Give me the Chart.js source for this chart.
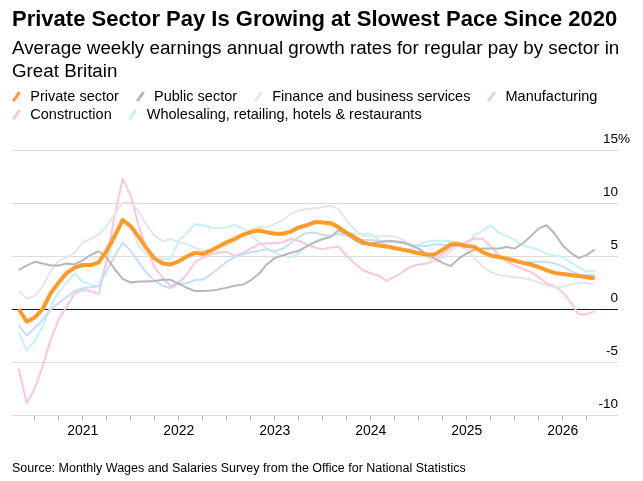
<!DOCTYPE html>
<html>
<head>
<meta charset="utf-8">
<script src="https://cdn.jsdelivr.net/npm/chart.js@4.4.1/dist/chart.umd.min.js"></script>
<style>
  body { margin: 0; background: #fff; font-family: 'Liberation Sans', Arial, sans-serif; color: #000; }
  #wrap { position: relative; width: 643px; height: 481px; overflow: hidden; }
  #wrap canvas { position: absolute; left: 0; top: 0; }
  .title { position: absolute; left: 12px; top: 6px; font-size: 22px; font-weight: bold; line-height: 26px; white-space: nowrap; }
  .subtitle { position: absolute; left: 12px; top: 36px; font-size: 18.8px; line-height: 23px; white-space: nowrap; }
  #legend { position: absolute; left: 12px; top: 87px; width: 600px; display: flex; flex-wrap: wrap; column-gap: 16.8px; font-size: 14.5px; line-height: 18px; }
  .item { display: flex; align-items: center; white-space: nowrap; }
  .icon { position: relative; width: 8px; height: 18px; }
  .icon i { position: absolute; left: 2.75px; top: 3.5px; width: 2.5px; height: 11px; transform: rotate(36deg); }
  .item span.label { margin-left: 10.3px; }
  .source { position: absolute; left: 12px; top: 460px; font-size: 12.5px; line-height: 16px; white-space: nowrap; }
</style>
</head>
<body>
<div id="wrap">
  <canvas id="chart" width="643" height="481"></canvas>
  <div class="title">Private Sector Pay Is Growing at Slowest Pace Since 2020</div>
  <div class="subtitle">Average weekly earnings annual growth rates for regular pay by sector in<br>Great Britain</div>
  <div id="legend"></div>
  <div class="source">Source: Monthly Wages and Salaries Survey from the Office for National Statistics</div>
</div>
<script>
// Monthly observations, May 2020 to May 2026
const firstMonth = { year: 2020, month: 5 };
const monthCount = 73;
const months = [];
for (let i = 0; i < monthCount; i++) {
    const m = firstMonth.month - 1 + i;
    months.push(`${firstMonth.year + Math.floor(m / 12)}-${String(m % 12 + 1).padStart(2, '0')}`);
}

const yearLabels = ['2021', '2022', '2023', '2024', '2025', '2026'];
const yTicks = [-10, -5, 0, 5, 10, 15];

// Annual growth, %
const privateSector = [
    0.0, -1.2, -0.8, 0.0, 1.5, 2.5, 3.4, 3.9, 4.15, 4.15, 4.4, 5.5,
    6.9, 8.4, 7.8, 6.8, 5.7, 4.75, 4.3, 4.2, 4.5, 4.95, 5.3, 5.2,
    5.5, 5.9, 6.3, 6.6, 7.0, 7.25, 7.4, 7.25, 7.1, 7.1, 7.3, 7.7,
    7.9, 8.2, 8.15, 8.1, 7.7, 7.2, 6.75, 6.3, 6.1, 6.0, 5.9, 5.75,
    5.6, 5.45, 5.25, 5.15, 5.15, 5.6, 6.1, 6.1, 5.95, 5.85, 5.35, 5.05,
    4.9, 4.75, 4.55, 4.35, 4.2, 3.95, 3.65, 3.4, 3.3, 3.2, 3.1, 3.0,
    2.9
];
const publicSector = [
    3.7, 4.1, 4.45, 4.3, 4.1, 4.1, 4.3, 4.2, 4.6, 5.1, 5.45, 4.85,
    3.75, 2.85, 2.5, 2.6, 2.6, 2.65, 2.75, 2.75, 2.4, 2.0, 1.7, 1.7,
    1.75, 1.85, 2.0, 2.2, 2.3, 2.7, 3.3, 4.2, 4.8, 5.05, 5.3, 5.5,
    5.9, 6.3, 6.6, 6.8, 7.45, 7.05, 6.5, 6.1, 6.15, 6.3, 6.45, 6.4,
    6.3, 6.0, 5.7, 5.15, 4.75, 4.35, 4.05, 4.75, 5.25, 5.6, 5.7, 5.7,
    5.7, 5.85, 5.7, 6.2, 6.85, 7.6, 7.9, 7.1, 6.0, 5.3, 4.8, 5.1,
    5.6
];
const financeBusiness = [
    1.7, 1.0, 1.2, 2.15, 3.6, 4.55, 4.85, 5.3, 6.3, 6.6, 7.05, 7.8,
    8.95, 10.05, 10.05, 9.2, 7.9, 6.9, 6.4, 6.6, 6.3, 6.1, 5.8, 5.5,
    5.55, 5.8, 6.0, 6.4, 6.9, 7.5, 7.75, 7.7, 8.0, 8.4, 8.95, 9.3,
    9.4, 9.5, 9.6, 9.75, 9.4, 8.3, 7.5, 6.9, 6.85, 6.85, 6.9, 6.8,
    6.55, 6.1, 5.6, 4.9, 4.45, 4.8, 5.5, 6.0, 5.6, 4.8, 4.0, 3.5,
    3.2, 3.1, 3.0, 2.9, 2.75, 2.5, 2.2, 2.1, 2.1, 2.3, 2.5, 2.45,
    2.3
];
const manufacturing = [
    -1.55, -2.5, -1.8, -1.0, -0.05, 0.6, 1.1, 1.7, 1.95, 2.05, 2.15, 3.6,
    5.0, 6.25, 5.5, 4.4, 3.4, 2.65, 2.2, 1.95, 2.4, 2.4, 2.75, 2.75,
    3.25, 3.85, 4.45, 4.9, 5.15, 5.35, 5.5, 5.65, 5.45, 5.7, 6.2, 6.8,
    7.2, 7.2, 7.0, 6.9, 7.1, 6.9, 6.6, 6.5, 6.5, 6.4, 6.3, 6.3,
    6.2, 6.1, 5.95, 5.95, 6.1, 6.05, 6.0, 6.0, 5.95, 5.8, 5.5, 5.15,
    4.85, 4.7, 4.55, 4.45, 4.4, 4.45, 4.45, 4.3, 4.0, 3.6, 3.25, 3.2,
    3.2
];
const construction = [
    -5.65, -8.9, -7.5, -5.4, -2.9, -1.0, 0.25, 1.45, 1.8, 1.7, 1.4, 4.7,
    8.8, 12.3, 10.7, 7.85, 5.65, 3.9, 2.95, 2.15, 2.5, 3.2, 4.4, 4.85,
    5.15, 5.3, 5.4, 5.0, 5.3, 5.7, 6.1, 6.2, 6.2, 6.3, 6.6, 6.45,
    6.1, 5.8, 5.65, 5.8, 5.85, 5.0, 4.3, 3.7, 3.35, 3.15, 2.65, 3.05,
    3.5, 4.0, 4.2, 4.3, 4.55, 5.2, 5.8, 6.0, 6.35, 6.65, 6.6, 5.9,
    5.1, 4.5, 4.1, 3.8, 3.5, 3.0, 2.4, 2.15, 1.6, 0.6, -0.5, -0.5,
    -0.2
];
const wholesaleRetail = [
    -2.2, -3.9, -3.05, -1.6, 0.25, 1.55, 2.5, 3.35, 2.55, 2.3, 2.15, 4.4,
    6.6, 8.15, 7.9, 5.95, 5.15, 4.7, 4.7, 4.75, 6.45, 7.15, 8.0, 7.9,
    7.7, 7.6, 7.7, 7.95, 7.6, 7.0, 6.3, 5.7, 5.3, 5.0, 4.9, 5.3,
    5.9, 6.3, 6.6, 6.9, 7.1, 7.2, 7.1, 7.1, 7.1, 6.5, 5.9, 5.6,
    5.5, 5.7, 6.1, 6.35, 6.45, 6.45, 6.4, 6.3, 6.0, 7.0, 7.4, 7.9,
    7.2, 6.9, 6.5, 6.0, 5.8, 5.6, 5.2, 5.05, 4.9, 4.4, 3.9, 3.5,
    3.6
];

const series = [
    { label: 'Private sector', values: privateSector, color: '#ff9b26', width: 4 },
    { label: 'Public sector', values: publicSector, color: '#b8b8b8', width: 2 },
    { label: 'Finance and business services', values: financeBusiness, color: '#e6e6e6', width: 2 },
    { label: 'Manufacturing', values: manufacturing, color: '#c4defa', width: 2 },
    { label: 'Construction', values: construction, color: '#fbc6dd', width: 2 },
    { label: 'Wholesaling, retailing, hotels & restaurants', values: wholesaleRetail, color: '#c6f0fb', width: 2 }
];

// month index counted from Jan 2020
function monthIndex(label) {
    const [y, m] = label.split('-').map(Number);
    return (y - 2020) * 12 + (m - 1);
}
const xs = months.map(monthIndex);
const quarterTicks = xs.filter(v => v % 3 === 0 && v > xs[0]);
const yearTicks = yearLabels.map(y => monthIndex(y + '-01'));
const yMax = yTicks[yTicks.length - 1];

Chart.defaults.font.family = "'Liberation Sans', Arial, sans-serif";
Chart.defaults.color = '#000';

const chart = new Chart(document.getElementById('chart'), {
    type: 'line',
    data: {
        datasets: series.map(s => ({
            label: s.label,
            data: s.values.map((v, i) => ({ x: xs[i], y: v })),
            borderColor: s.color,
            backgroundColor: s.color,
            borderWidth: s.width,
            borderJoinStyle: 'round',
            pointRadius: 0,
            tension: 0
        }))
    },
    options: {
        responsive: false,
        animation: false,
        layout: { padding: { top: 150, left: 12, right: 13, bottom: 41 } },
        plugins: {
            legend: { display: false },
            tooltip: { enabled: false }
        },
        scales: {
            x: {
                type: 'linear',
                min: xs[0] - 0.84,
                max: xs[xs.length - 1] + 2.91,
                afterBuildTicks: scale => { scale.ticks = quarterTicks.map(v => ({ value: v })); },
                afterFit: scale => { scale.height = 25; },
                border: { display: false },
                grid: { drawOnChartArea: false, tickLength: 5, tickColor: '#b0b0b0' },
                ticks: {
                    autoSkip: false,
                    maxRotation: 0,
                    padding: 3,
                    font: { size: 14 },
                    callback: v => yearTicks.includes(v) ? yearLabels[yearTicks.indexOf(v)] : ''
                }
            },
            y: {
                position: 'right',
                min: -10,
                max: yMax,
                afterBuildTicks: scale => { scale.ticks = yTicks.map(v => ({ value: v })); },
                border: { display: false },
                grid: {
                    drawTicks: false,
                    color: c => c.tick && c.tick.value === 0 ? '#1a1a1a' : '#dcdcdc'
                },
                ticks: {
                    mirror: true,
                    padding: 0,
                    labelOffset: -11,
                    font: { size: 13.5 },
                    callback: v => String(v)
                }
            },
            // unit sign hanging past the top label
            yUnit: {
                position: 'right',
                min: -10,
                max: yMax,
                afterBuildTicks: scale => { scale.ticks = [{ value: yMax }]; },
                border: { display: false },
                grid: { display: false, drawTicks: false },
                ticks: {
                    padding: 0,
                    labelOffset: -11,
                    font: { size: 13.5 },
                    callback: () => '%'
                }
            }
        }
    }
});

// HTML legend from the chart's datasets
const legendEl = document.getElementById('legend');
chart.data.datasets.forEach(ds => {
    const item = document.createElement('div');
    item.className = 'item';
    item.innerHTML = `<span class="icon"><i style="background:${ds.borderColor}"></i></span><span class="label"></span>`;
    item.querySelector('.label').textContent = ds.label;
    legendEl.appendChild(item);
});
</script>
</body>
</html>
